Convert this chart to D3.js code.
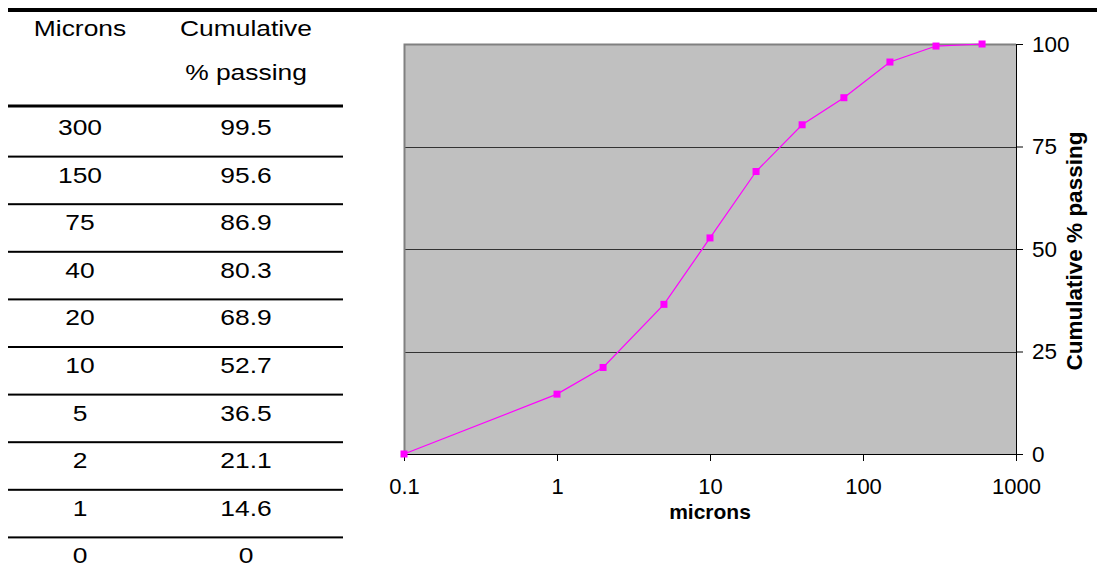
<!DOCTYPE html>
<html>
<head>
<meta charset="utf-8">
<script src="https://cdn.jsdelivr.net/npm/d3@7"></script>
<style>
  html, body { margin: 0; padding: 0; background: #fff; }
  svg { display: block; font-family: "Liberation Sans", Arial, sans-serif; }
</style>
</head>
<body>
<svg id="chart" width="1097" height="583"></svg>
<script>
// ---- Data ----
const tableHeader1 = ["Microns", "Cumulative"];
const tableHeader2 = ["", "% passing"];
const tableMicrons = ["300", "150", "75", "40", "20", "10", "5", "2", "1", "0"];
const tablePassing = ["99.5", "95.6", "86.9", "80.3", "68.9", "52.7", "36.5", "21.1", "14.6", "0"];

const chartMicrons = [0.1, 1, 2, 5, 10, 20, 40, 75, 150, 300, 600];
const chartPassing = [0, 14.6, 21.1, 36.5, 52.7, 68.9, 80.3, 86.9, 95.6, 99.5, 100];

const xTicks = [0.1, 1, 10, 100, 1000];
const xTickLabels = ["0.1", "1", "10", "100", "1000"];
const yTicks = [0, 25, 50, 75, 100];
const xTitle = "microns";
const yTitle = "Cumulative % passing";

// ---- Layout ----
const svg = d3.select("#chart");
const plot = { left: 404, right: 1016, top: 44, bottom: 454 };
const FONT = "Liberation Sans, Arial, sans-serif";

// top black bar
svg.append("rect").attr("x", 8).attr("y", 8).attr("width", 1089).attr("height", 4).attr("fill", "#000");

// ---- Table ----
const colX = [80, 246];
const tbl = svg.append("g").attr("font-size", 22).attr("fill", "#000");
function stretchedText(g, x, y, txt) {
  g.append("text")
    .attr("transform", `translate(${x},${y}) scale(1.2,1)`)
    .attr("text-anchor", "middle")
    .text(txt);
}
tableHeader1.forEach((t, i) => stretchedText(tbl, colX[i], 36, t));
tableHeader2.forEach((t, i) => { if (t) stretchedText(tbl, colX[i], 80, t); });

svg.append("rect").attr("x", 8).attr("y", 104.5).attr("width", 335).attr("height", 3).attr("fill", "#000");

const rowY = d3.scaleLinear().domain([0, 1]).range([135, 135 + 47.6]);
tableMicrons.forEach((m, i) => {
  stretchedText(tbl, colX[0], rowY(i), m);
  stretchedText(tbl, colX[1], rowY(i), tablePassing[i]);
  if (i > 0) {
    svg.append("rect").attr("x", 8).attr("y", rowY(i) - 26 - 1).attr("width", 335).attr("height", 2).attr("fill", "#000");
  }
});

// ---- Chart ----
const x = d3.scaleLog().domain([0.1, 1000]).range([plot.left, plot.right]);
const y = d3.scaleLinear().domain([0, 100]).range([plot.bottom, plot.top]);

svg.append("rect")
  .attr("x", plot.left).attr("y", plot.top)
  .attr("width", plot.right - plot.left).attr("height", plot.bottom - plot.top)
  .attr("fill", "#C0C0C0");

// gridlines
svg.append("g").selectAll("line").data(yTicks.filter(d => d > 0 && d < 100)).join("line")
  .attr("x1", plot.left).attr("x2", plot.right)
  .attr("y1", d => Math.round(y(d)) + 0.5).attr("y2", d => Math.round(y(d)) + 0.5)
  .attr("stroke", "#333").attr("stroke-width", 1);

// gray border top & left
svg.append("path")
  .attr("d", `M${plot.left + 0.5},${plot.bottom} V${plot.top + 0.5} H${plot.right}`)
  .attr("fill", "none").attr("stroke", "#808080").attr("stroke-width", 2);

// x axis
const xAxis = d3.axisBottom(x).tickValues(xTicks).tickFormat((d, i) => xTickLabels[i]).tickSizeOuter(0).tickSize(7).tickPadding(10);
const gx = svg.append("g").attr("transform", `translate(0,${plot.bottom})`).call(xAxis);
gx.select(".domain").attr("stroke", "#000");
gx.selectAll(".tick line").attr("stroke", "#000");
gx.selectAll(".tick text").attr("font-size", 22).attr("fill", "#000").attr("font-family", FONT)
  .attr("y", 40).attr("dy", null);

// y axis (right)
const yAxis = d3.axisRight(y).tickValues(yTicks).tickSizeOuter(0).tickSize(7).tickPadding(9);
const gy = svg.append("g").attr("transform", `translate(${plot.right},0)`).call(yAxis);
gy.select(".domain").attr("stroke", "#000");
gy.selectAll(".tick line").attr("stroke", "#000");
gy.selectAll(".tick text").attr("font-size", 22.5).attr("fill", "#000").attr("font-family", FONT);

// titles
svg.append("text").attr("x", 710).attr("y", 519).attr("text-anchor", "middle")
  .attr("font-size", 21).attr("font-weight", "bold").text(xTitle);
svg.append("text").attr("transform", `translate(1082,251) rotate(-90)`).attr("text-anchor", "middle")
  .attr("font-size", 22.5).attr("font-weight", "bold").text(yTitle);

// series
const pts = chartMicrons.map((m, i) => [m, chartPassing[i]]);
svg.append("path").datum(pts)
  .attr("d", d3.line().x(d => x(d[0])).y(d => y(d[1])))
  .attr("fill", "none").attr("stroke", "#FF00FF").attr("stroke-width", 1.2);
svg.append("g").selectAll("rect").data(pts).join("rect")
  .attr("x", d => x(d[0]) - 3.5).attr("y", d => y(d[1]) - 3.5)
  .attr("width", 7).attr("height", 7).attr("fill", "#FF00FF");
</script>
</body>
</html>
